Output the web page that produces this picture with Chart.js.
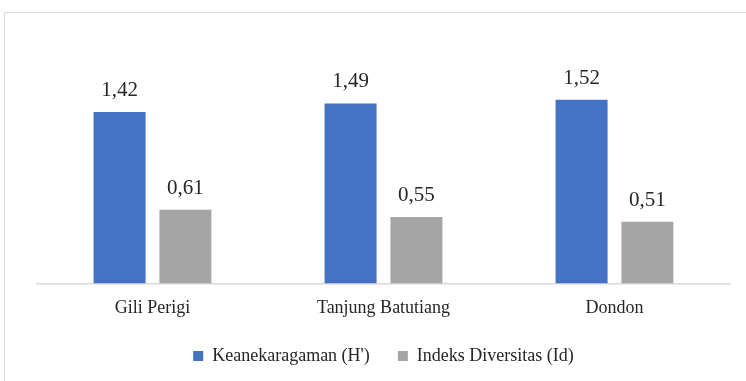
<!DOCTYPE html>
<html>
<head>
<meta charset="utf-8">
<script src="https://cdn.jsdelivr.net/npm/chart.js@4"></script>
<style>
  html, body { margin: 0; padding: 0; background: #fff; }
  #wrap { position: relative; width: 746px; height: 381px; overflow: hidden; }
  #frame { position: absolute; left: 4px; top: 12px; width: 800px; height: 420px; border: 1.5px solid #d9d9d9; box-sizing: border-box; pointer-events: none; }
  canvas { position: absolute; left: 0; top: 0; }
</style>
</head>
<body>
<div id="wrap">
  <canvas id="chart" width="746" height="381"></canvas>
  <div id="frame"></div>
</div>
<script>
const locations = ['Gili Perigi', 'Tanjung Batutiang', 'Dondon']
const keanekaragaman = [1.42, 1.49, 1.52]
const indeksDiversitas = [0.61, 0.55, 0.51]

// draws the value over each bar, decimal comma like the source
const valueLabels = {
  id: 'valueLabels',
  afterDatasetsDraw(chart) {
    const { ctx } = chart
    ctx.save()
    ctx.font = '21px "Liberation Serif", "Times New Roman", serif'
    ctx.fillStyle = '#262626'
    ctx.textAlign = 'center'
    ctx.textBaseline = 'alphabetic'
    chart.data.datasets.forEach((ds, i) => {
      chart.getDatasetMeta(i).data.forEach((bar, j) => {
        ctx.fillText(ds.data[j].toFixed(2).replace('.', ','), bar.x, bar.y - 16)
      })
    })
    ctx.restore()
  },
}

new Chart(document.getElementById('chart'), {
  type: 'bar',
  data: {
    labels: locations,
    datasets: [
      { label: "Keanekaragaman (H')", data: keanekaragaman, backgroundColor: '#4472c4' },
      { label: 'Indeks Diversitas (Id)', data: indeksDiversitas, backgroundColor: '#a5a5a5' },
    ],
  },
  options: {
    responsive: false,
    animation: false,
    categoryPercentage: 0.57,
    barPercentage: 0.79,
    layout: { padding: { left: 37, right: 16, top: 66, bottom: 6 } },
    scales: {
      x: {
        grid: { display: false },
        border: { color: '#d9d9d9', width: 1.5 },
        ticks: { color: '#262626', font: { family: '"Liberation Serif", serif', size: 18 }, padding: 6 },
        afterFit: (scale) => { scale.height -= 6 },
      },
      y: { display: false, min: 0, max: 1.8 },
    },
    plugins: {
      legend: {
        position: 'bottom',
        labels: {
          boxWidth: 10,
          boxHeight: 10,
          padding: 28,
          color: '#262626',
          font: { family: '"Liberation Serif", serif', size: 18 },
        },
      },
      tooltip: { enabled: false },
    },
  },
  plugins: [valueLabels],
})
</script>
</body>
</html>
